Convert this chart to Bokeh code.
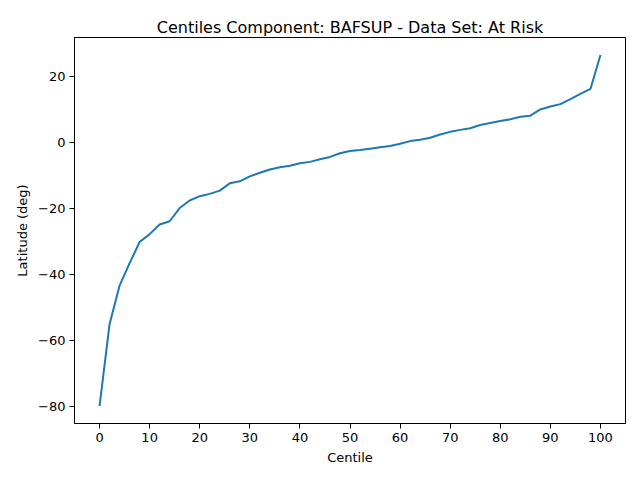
from bokeh.plotting import figure
from bokeh.models import Range1d, FixedTicker
from bokeh.embed import file_html
from bokeh.resources import INLINE

# centile positions and latitude values
centiles = list(range(0, 101, 2))
latitude = [
    -80.0, -55.2, -43.5, -36.7, -30.3, -27.9, -25.0, -24.0, -20.0, -17.7,
    -16.4, -15.7, -14.7, -12.5, -11.9, -10.4, -9.3, -8.3, -7.6, -7.2,
    -6.4, -6.0, -5.2, -4.5, -3.4, -2.7, -2.4, -2.0, -1.6, -1.2,
    -0.5, 0.3, 0.7, 1.3, 2.3, 3.1, 3.7, 4.2, 5.2, 5.8,
    6.4, 6.9, 7.7, 8.0, 9.9, 10.8, 11.5, 13.0, 14.6, 16.1,
    26.4,
]
x_ticks = list(range(0, 101, 10))
y_ticks = [-80, -60, -40, -20, 0, 20]

FONT = "DejaVu Sans"

p = figure(width=640, height=480, output_backend="svg", toolbar_location=None,
           title="Centiles Component: BAFSUP - Data Set: At Risk",
           x_axis_label="Centile", y_axis_label="Latitude (deg)",
           min_border_left=74, min_border_right=15, min_border_top=37, min_border_bottom=57)
p.x_range = Range1d(-5, 105)
p.y_range = Range1d(-85.3, 31.7)

p.line(centiles, latitude, line_color="#1f77b4", line_width=2)

p.title.text_font = FONT
p.title.text_font_size = "16px"
p.title.text_font_style = "normal"
p.title.text_color = "black"
p.title.align = "center"
p.title.offset = 0
p.title.standoff = 1

p.xgrid.visible = False
p.ygrid.visible = False
p.outline_line_color = "black"
p.outline_line_alpha = 1
p.outline_line_width = 1

p.xaxis.ticker = FixedTicker(ticks=x_ticks)
p.yaxis.ticker = FixedTicker(ticks=y_ticks)
for ax in (p.xaxis, p.yaxis):
    ax.axis_line_color = "black"
    ax.major_tick_line_color = "black"
    ax.major_tick_out = 5
    ax.major_tick_in = 0
    ax.minor_tick_line_color = None
    ax.major_label_text_font = FONT
    ax.major_label_text_font_size = "13px"
    ax.major_label_text_color = "black"
    ax.axis_label_text_font = FONT
    ax.axis_label_text_font_size = "13px"
    ax.axis_label_text_font_style = "normal"
    ax.axis_label_text_color = "black"
    ax.major_label_standoff = 4
    ax.axis_label_standoff = 5

open("out.html", "w").write(file_html(p, INLINE))
